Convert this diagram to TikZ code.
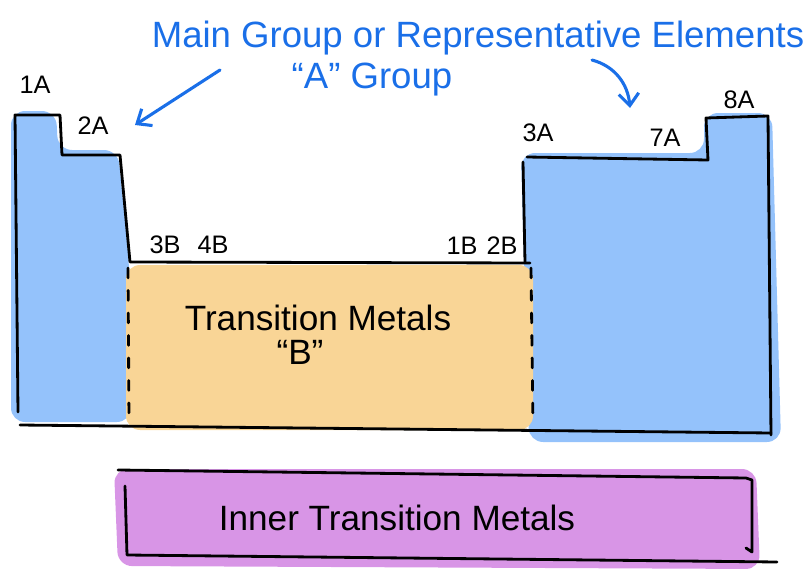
\documentclass[tikz,border=0pt]{standalone}
\usepackage{fontspec}
\setmainfont{Liberation Sans}
\usetikzlibrary{positioning,arrows.meta}
\definecolor{albastru}{HTML}{1A6FE8}
\definecolor{umplereA}{HTML}{94C2FB}
\definecolor{umplereB}{HTML}{F9D596}
\definecolor{umplereI}{HTML}{D895E6}
\tikzset{
  contur/.style   = {draw=black, line width=2pt, line cap=round, line join=round},
  punctat/.style  = {contur, dash pattern=on 7pt off 9pt},
  pata/.style     = {rounded corners=10pt},
  eticheta/.style = {font=\fontsize{18}{18}\selectfont, inner sep=1pt},
  nume/.style     = {font=\fontsize{25}{25}\selectfont, inner sep=1pt},
  titlu/.style    = {text=albastru, font=\fontsize{26}{26}\selectfont, inner sep=1pt},
  sageata/.style  = {draw=albastru, line width=2.2pt, line cap=round,
                     -{Straight Barb[length=3mm,width=5mm]}}
}
\begin{document}
\begin{tikzpicture}[x=0.025cm, y=-0.025cm]
        \useasboundingbox (0,0) rectangle (812,573);

        % culori
        \fill[umplereA, pata] (11,111) -- (56,111) -- (58,150) -- (118,150) -- (129,262)
            -- (131,422) -- (11,422) -- cycle;
        \fill[umplereA, pata] (521,153) -- (704,153) -- (704,113) -- (772,113)
            -- (781,442) -- (529,442) -- cycle;
        \fill[umplereB, pata] (126,265) -- (533,265) -- (533,430) -- (126,430) -- cycle;
        \fill[umplereI, pata] (114,469) -- (756,469) -- (760,569) -- (118,566) -- cycle;

        % contururi
        \draw[contur] (18,412) -- (15,115) -- (60,115) -- (62,155) -- (120,155)
            -- (130,262) -- (530,263);
        \draw[contur] (523,162) -- (525,262);
        \draw[contur] (527,157) -- (708,160) -- (706,118) -- (768,116) -- (771,435);
        \draw[contur] (20,425) -- (771,433);
        \draw[punctat] (128,268) -- (129,420);
        \draw[punctat] (531,268) -- (533,425);
        \draw[contur] (118,470) -- (746,478) -- (752,480) -- (752,552) -- (746,548);
        \draw[contur] (125,486) -- (127,555) -- (777,562);

        % etichete
        \node[eticheta] (g1A) at (35,85) {1A};
        \node[eticheta] (g2A) at (93,126) {2A};
        \node[eticheta] (g3B) at (165,245) {3B};
        \node[eticheta] (g4B) at (213,245) {4B};
        \node[eticheta] (g1B) at (462,246) {1B};
        \node[eticheta] (g2B) at (502,246) {2B};
        \node[eticheta] (g3A) at (538,133) {3A};
        \node[eticheta] (g7A) at (665,138) {7A};
        \node[eticheta] (g8A) at (739,100) {8A};

        \node[nume] (tranz) at (318,318) {Transition Metals};
        \node[nume] (notaB) at (300,352) {``B''};
        \node[nume] (interior) at (397,518) {Inner Transition Metals};

        \node[titlu] (titlu) at (478,38) {Main Group or Representative Elements};
        \node[titlu] (notaA) at (372,80) {``A'' Group};

        % sageti
        \coordinate (s1) at (220,70);
        \coordinate (d1) at (135,125);
        \coordinate (s2) at (592,60);
        \coordinate (d2) at (630,108);
        \draw[sageata] (s1) -- (d1);
        \draw[sageata] (s2) to[out=-15, in=95] (d2);
    \end{tikzpicture}
\end{document}
